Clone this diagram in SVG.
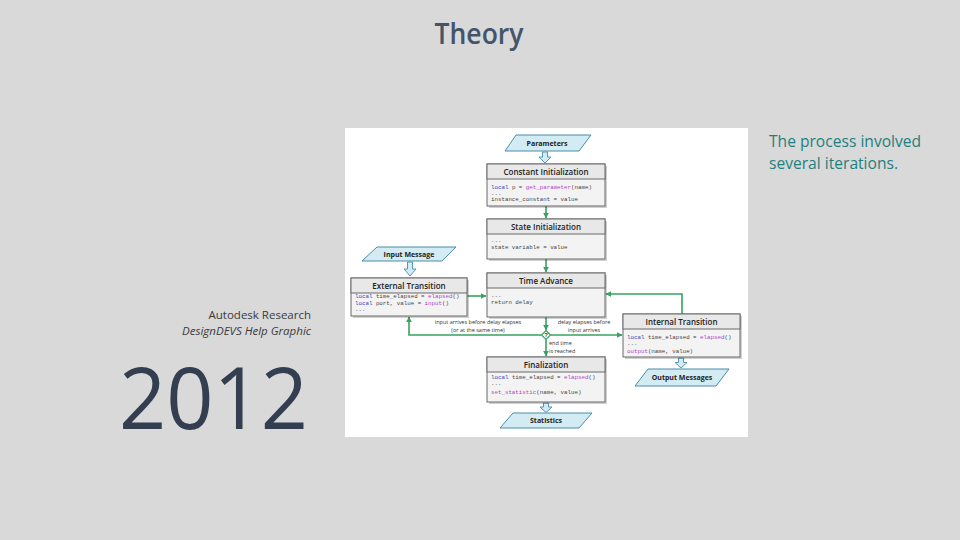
<svg xmlns="http://www.w3.org/2000/svg" width="960" height="540" viewBox="0 0 960 540">
<defs>
<style>
.bg{fill:#d9d9d9}
.title{font-family:"Open Sans","Liberation Sans",sans-serif;font-size:28px;font-weight:600;fill:#44546a}
.note{font-family:"Open Sans","Liberation Sans",sans-serif;font-size:15.6px;fill:#1f7f7f}
.cred{font-family:"Open Sans","Liberation Sans",sans-serif;font-size:11.5px;fill:#3a3a3a;text-anchor:end}
.year{font-family:"Open Sans","Liberation Sans",sans-serif;font-size:86px;fill:#333f50}
.box{fill:#f3f3f3;stroke:#6a6a6a;stroke-width:1}
.hdr{fill:#e8e8e8;stroke:#6a6a6a;stroke-width:1}
.shadow{fill:#000;opacity:0.18}
.ntitle{font-family:"Open Sans","Liberation Sans",sans-serif;font-size:8px;font-weight:600;fill:#222;text-anchor:middle}
.code{font-family:"Liberation Mono","DejaVu Sans Mono",monospace;font-size:5.8px;fill:#444}
.kw{fill:#3346b8}
.fn{fill:#b03fc4}
.para{fill:#d3ebf3;stroke:#4a8cab;stroke-width:1}
.ptxt{font-family:"Open Sans","Liberation Sans",sans-serif;font-size:7px;font-weight:700;fill:#222;text-anchor:middle}
.hollow{fill:#d3ebf3;stroke:#4a8cab;stroke-width:0.9}
.flow{stroke:#36a35e;stroke-width:1.6;fill:none;marker-end:url(#ah)}
.lbl{font-family:"Open Sans","Liberation Sans",sans-serif;font-size:5.5px;fill:#333}
</style>
<marker id="ah" viewBox="0 0 10 10" refX="9" refY="5" markerWidth="6" markerHeight="6" markerUnits="userSpaceOnUse" orient="auto">
<path d="M0,0 L10,5 L0,10 z" fill="#36a35e"/>
</marker>
</defs>
<rect class="bg" x="0" y="0" width="960" height="540"/>
<text class="title" x="479" y="44" text-anchor="middle" textLength="89" lengthAdjust="spacingAndGlyphs">Theory</text>
<text class="note" x="769" y="147">The process involved</text>
<text class="note" x="769" y="169">several iterations.</text>
<text class="cred" x="311" y="319">Autodesk Research</text>
<text class="cred" x="311" y="335" font-style="italic">DesignDEVS Help Graphic</text>
<text class="year" x="119" y="429" textLength="189" lengthAdjust="spacingAndGlyphs">2012</text>

<rect x="345" y="128" width="403" height="309" fill="#ffffff"/>

<g id="connectors">
<path class="flow" d="M546,206 V218"/>
<path class="flow" d="M546,259 V272"/>
<path class="flow" d="M467,296 H486"/>
<path class="flow" d="M682,314 V294 H606"/>
<path class="flow" d="M546,317 V330"/>
<path class="flow" d="M541.5,335 H409 V317"/>
<path class="flow" d="M550.5,335 H622"/>
<path class="flow" d="M546,339.5 V356"/>
<path class="hollow" d="M542.5,152 h5 v5 h3.5 l-6,6 l-6,-6 h3.5 z"/>
<path class="hollow" d="M407.5,262 h5 v7 h3.5 l-6,7 l-6,-7 h3.5 z"/>
<path class="hollow" d="M678.5,358 h5 v4.5 h3.5 l-6,5.5 l-6,-5.5 h3.5 z"/>
<path class="hollow" d="M543.5,403 h5 v4 h3.5 l-6,5.5 l-6,-5.5 h3.5 z"/>
<text class="lbl" x="478" y="324" text-anchor="middle">input arrives before delay elapses</text>
<text class="lbl" x="478" y="332" text-anchor="middle">(or at the same time)</text>
<text class="lbl" x="584" y="324" text-anchor="middle">delay elapses before</text>
<text class="lbl" x="584" y="332" text-anchor="middle">input arrives</text>
<text class="lbl" x="549" y="345">end time</text>
<text class="lbl" x="549" y="353">is reached</text>
</g>

<g id="decision">
<path d="M546,330.5 L550.5,335 L546,339.5 L541.5,335 z" fill="#ffffff" stroke="#36a35e" stroke-width="1.2"/>
<text x="546" y="337.2" font-family="Liberation Sans, sans-serif" font-size="6" font-weight="700" fill="#333" text-anchor="middle">?</text>
</g>

<g id="parameters">
<polygon class="para" points="516,135 591,135 579,151 505,151"/>
<text class="ptxt" x="547" y="145.5">Parameters</text>
</g>

<g id="constant-initialization">
<rect class="shadow" x="489" y="166" width="118" height="42"/>
<rect class="box" x="487" y="164" width="118" height="42"/>
<rect class="hdr" x="487" y="164" width="118" height="15"/>
<text class="ntitle" x="546" y="175">Constant Initialization</text>
<text class="code" x="491" y="189"><tspan class="kw">local</tspan> p = <tspan class="fn">get_parameter</tspan>(name)</text>
<text class="code" x="491" y="195">...</text>
<text class="code" x="491" y="201">instance_constant = value</text>
</g>

<g id="state-initialization">
<rect class="shadow" x="489" y="221" width="118" height="40"/>
<rect class="box" x="487" y="219" width="118" height="40"/>
<rect class="hdr" x="487" y="219" width="118" height="15"/>
<text class="ntitle" x="546" y="230">State Initialization</text>
<text class="code" x="491" y="242">...</text>
<text class="code" x="491" y="249">state variable = value</text>
</g>

<g id="input-message">
<polygon class="para" points="377,247 456,247 442,261 362,261"/>
<text class="ptxt" x="409" y="256.5">Input Message</text>
</g>

<g id="external-transition">
<rect class="shadow" x="353" y="280" width="116" height="38"/>
<rect class="box" x="351" y="278" width="116" height="38"/>
<rect class="hdr" x="351" y="278" width="116" height="15"/>
<text class="ntitle" x="409" y="289">External Transition</text>
<text class="code" x="355" y="298"><tspan class="kw">local</tspan> time_elapsed = <tspan class="fn">elapsed</tspan>()</text>
<text class="code" x="355" y="304.5"><tspan class="kw">local</tspan> port, value = <tspan class="fn">input</tspan>()</text>
<text class="code" x="355" y="311">...</text>
</g>

<g id="time-advance">
<rect class="shadow" x="489" y="275" width="118" height="44"/>
<rect class="box" x="487" y="273" width="118" height="44"/>
<rect class="hdr" x="487" y="273" width="118" height="15"/>
<text class="ntitle" x="546" y="284">Time Advance</text>
<text class="code" x="491" y="297">...</text>
<text class="code" x="491" y="304">return delay</text>
</g>

<g id="internal-transition">
<rect class="shadow" x="625" y="316" width="117" height="43"/>
<rect class="box" x="623" y="314" width="117" height="43"/>
<rect class="hdr" x="623" y="314" width="117" height="15"/>
<text class="ntitle" x="681.5" y="325">Internal Transition</text>
<text class="code" x="627" y="338.5"><tspan class="kw">local</tspan> time_elapsed = <tspan class="fn">elapsed</tspan>()</text>
<text class="code" x="627" y="344.5">...</text>
<text class="code" x="627" y="352.5"><tspan class="fn">output</tspan>(name, value)</text>
</g>

<g id="output-messages">
<polygon class="para" points="648,369 729,369 716,386 635,386"/>
<text class="ptxt" x="682" y="380">Output Messages</text>
</g>

<g id="finalization">
<rect class="shadow" x="489" y="359" width="118" height="45"/>
<rect class="box" x="487" y="357" width="118" height="45"/>
<rect class="hdr" x="487" y="357" width="118" height="15"/>
<text class="ntitle" x="546" y="368">Finalization</text>
<text class="code" x="491" y="379"><tspan class="kw">local</tspan> time_elapsed = <tspan class="fn">elapsed</tspan>()</text>
<text class="code" x="491" y="385">...</text>
<text class="code" x="491" y="393.5"><tspan class="fn">set_statistic</tspan>(name, value)</text>
</g>

<g id="statistics">
<polygon class="para" points="513,413 592,413 579,428 500,428"/>
<text class="ptxt" x="546" y="423">Statistics</text>
</g>
</svg>
